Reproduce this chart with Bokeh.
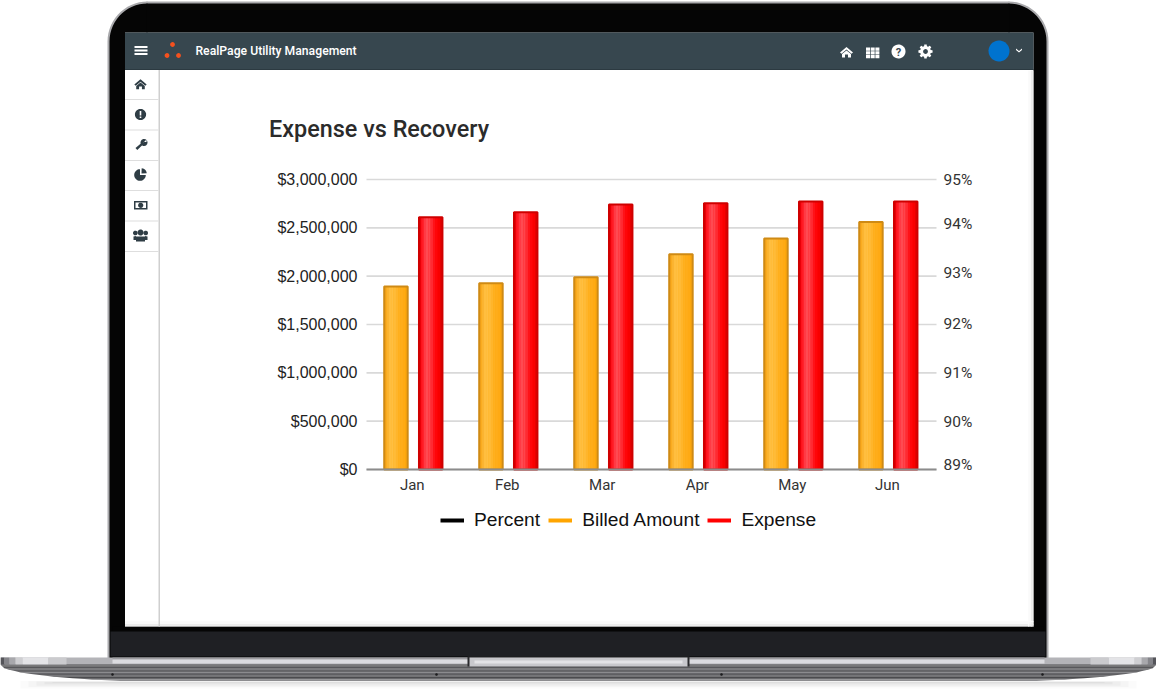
import numpy as np
from bokeh.embed import file_html
from bokeh.resources import INLINE
from bokeh.plotting import figure
from bokeh.models import (ColumnDataSource, PolyAnnotation, Label, LinearAxis, Range1d, FixedTicker,
                          NumeralTickFormatter, Legend, LegendItem)
from bokeh.transform import dodge

nan = float("nan")
# ---- data ----
months = ["Jan", "Feb", "Mar", "Apr", "May", "Jun"]
billed_amount = [1893000, 1928000, 1990000, 2228000, 2390000, 2560000]
expense = [2610000, 2662000, 2742000, 2755000, 2773000, 2773000]
percent = [nan, nan, nan, nan, nan, nan]   # the Percent series is in the legend but not visible in the plot
left_ticks = [0, 500000, 1000000, 1500000, 2000000, 2500000, 3000000]
right_labels = ["89%", "90%", "91%", "92%", "93%", "94%", "95%"]
chart_title = "Expense vs Recovery"
app_title = "RealPage Utility Management"

# the reference's right-hand labels sit slightly off their gridlines
right_tick_at = [89.10, 89.99, 91.0, 92.02, 93.06, 94.07, 94.98]
month_label_nudge = -0.018

W, H = 1156, 690
# plot rectangle inside the page, in pixels; the frame fills the canvas so the device can be drawn around it
PL, PR, PT, PB = 366, 936, 179, 469
x_per_px = len(months)/(PR-PL)
x0 = -0.5 - PL*x_per_px
y_per_px = 3000000/(PB-PT)
pct_per_px = 6/(PB-PT)

p = figure(width=W, height=H, x_range=Range1d(x0, x0+W*x_per_px),
           y_range=Range1d(-(H-PB)*y_per_px, PB*y_per_px), output_backend="svg",
           toolbar_location=None, min_border=0, background_fill_color=None, border_fill_color=None,
           x_axis_location=None, y_axis_location=None, tools="")
p.outline_line_color = None
p.center = []
p.extra_y_ranges = {"pct": Range1d(89-(H-PB)*pct_per_px, 89+PB*pct_per_px)}


# ---- device frame helpers (picture coordinates) ----
def poly(xs, ys, color, alpha=1.0):
    p.add_layout(PolyAnnotation(xs=[float(x) for x in xs], ys=[float(y) for y in ys], xs_units="canvas", ys_units="canvas",
                                fill_color=color, fill_alpha=alpha, line_color=None))

def rect(x0, y0, x1, y1, color, alpha=1.0):
    poly([x0, x1, x1, x0], [y0, y0, y1, y1], color, alpha)

def circ(cx, cy, r, color, a0=0, a1=360, wedge=False):
    t = np.radians(np.linspace(a0, a1, 40))
    xs = list(cx+r*np.cos(t)); ys = list(cy+r*np.sin(t))
    if wedge:
        xs.append(cx); ys.append(cy)
    poly(xs, ys, color)

def text(x, y, s, size, color, font="Roboto", style="normal", align="left"):
    p.add_layout(Label(x=x, y=y, x_units="canvas", y_units="canvas", text=s, text_font=font,
                       text_font_size=f"{size}px", text_color=color, text_font_style=style,
                       text_baseline="middle", text_align=align))

SX0, SX1, SY0, SY1 = 124.5, 1033, 32, 626

def lid(x0, x1, y0, y1, r, color):
    # ring around the screen, so that the chart underneath stays visible
    t = np.radians(np.linspace(180, 270, 16))
    ax = list(x0+r+r*np.cos(t)); ay = list(y0+r+r*np.sin(t))
    poly([x0]+ax+[x0+r, SX0, SX0], [y1]+ay+[SY0, SY0, y1], color)
    bx_ = [x0+x1-v for v in ax]
    poly([x1]+bx_+[x1-r, SX1, SX1], [y1]+ay+[SY0, SY0, y1], color)
    rect(x0+r-1, y0, x1-r+1, SY0, color)
    rect(x0+3, SY1, x1-3, y1, color)

# ---- laptop lid ----
lid(107, 1048, 1, 658, 40, "#a9a9ac")
lid(109, 1046, 3, 658, 38, "#050505")
rect(110, 631, 1045, 656, "#1f2024")
# soft screen edge shadow
for i, c in enumerate(["#dedede", "#ececec", "#f5f5f5", "#fbfbfb"]):
    rect(1032-i*1.5, 70, 1033-i*1.5, 626, c)
    rect(124.5, 625-i*1.5, 1033, 626-i*1.5, c)
# ---- base ----
bx = [0, 4, 20, 50, 90, 130]
by = [664, 668, 672, 676, 679, 681]
bands = ["#4a4a4d", "#505053", "#58585b", "#5e5e61", "#646467", "#68686b", "#66666a", "#5f5f62", "#56565a", "#4b4b4e", "#46464a", "#8d8d90"]
ylev = np.linspace(663.5, 680.5, len(bands)+1)
for c in range(5):
    rect(20+c*8, 680.5+c*0.3, 1136-c*8, 688-c*1.4, ["#fbfbfb", "#f5f5f5", "#eeeeee", "#e6e6e6", "#dddddd"][c])
for i, c in enumerate(bands):
    l0, l1 = np.interp([ylev[i], ylev[i+1]], by, bx)
    poly([l0, 1156-l0, 1156-l1, l1], [ylev[i], ylev[i], ylev[i+1], ylev[i+1]], c)
rect(0, 657, 1156, 664, "#b4b4b8")
for x_a, x_b, col in [(0, 4, "#55555a"), (4, 9, "#85858a"), (9, 15, "#a8a8ac"), (15, 22, "#cfcfd2"), (22, 48, "#e4e4e7"), (48, 66, "#cbcbce")]:
    rect(x_a, 657, x_b, 664, col)
    rect(1156-x_b, 657, 1156-x_a, 664, col)
rect(112, 657, 1044, 659, "#9c9ca0")
rect(112, 659, 1044, 663, "#dcdce0")
rect(467, 656, 689, 666, "#2a2a2d")
rect(469, 657, 687, 666, "#c8c8cc")
rect(474, 660, 682, 663, "#e3e3e6")
for x in [112, 436, 721, 1042]:
    circ(x, 674, 1.3, "#1c1c1e")

# ---- app bar ----
rect(124.5, 32, 1033, 69.5, "#37474f")
rect(124.5, 68.5, 1033, 69.5, "#2c3a41")
for y in [46.5, 50, 53.5]:
    rect(134, y-1, 147, y+1, "#ffffff")
for cx, cy in [(172, 44), (166.5, 55), (178, 55)]:
    circ(cx, cy, 2.4, "#f4511e")
text(195, 50, app_title, 12.2, "#ffffff", font="Roboto Medium")

def home(cx, cy, s, col):
    poly([cx-6.5*s, cx, cx+6.5*s, cx+5*s, cx, cx-5*s], [cy, cy-5.5*s, cy, cy+1.2*s, cy-3*s, cy+1.2*s], col)
    poly([cx, cx+4.5*s, cx+4.5*s, cx+1.5*s, cx+1.5*s, cx-1.5*s, cx-1.5*s, cx-4.5*s, cx-4.5*s],
         [cy-2*s, cy+1.5*s, cy+5*s, cy+5*s, cy+2*s, cy+2*s, cy+5*s, cy+5*s, cy+1.5*s], col)

home(846, 52, 1.0, "#ffffff")
for i in range(3):
    for j in range(3):
        rect(865.5+i*4.7, 47+j*3.8, 869.5+i*4.7, 50.2+j*3.8, "#ffffff")
circ(898, 51, 7, "#ffffff")
text(898, 51.5, "?", 11, "#37474f", style="bold", align="center")
# gear
t = np.radians(np.arange(0, 360, 5))
r = 5.4 + 1.7*(np.cos(np.radians(np.arange(0, 360, 5))*8) > 0)
poly(list(925+r*np.cos(t)), list(51+r*np.sin(t)), "#ffffff")
circ(925, 51, 2.4, "#37474f")
circ(998.5, 50.5, 10.5, "#0073cf")
poly([1015.5, 1018.5, 1021.5, 1021.5, 1018.5, 1015.5], [48, 50.5, 48, 49.5, 52, 49.5], "#ffffff")

# ---- side bar ----
rect(158, 69.5, 159.5, 626, "#cfcfcf")
for y in [99, 129.5, 160, 190, 220.5, 251]:
    rect(124.5, y-0.5, 158, y+0.5, "#dedede")
ic = "#2f3d45"
home(140, 84, 0.95, ic)
circ(140, 114, 5.6, ic)
rect(139.2, 110.5, 140.8, 115, "#ffffff")
rect(139.2, 116, 140.8, 117.6, "#ffffff")
poly([135, 141.5, 143, 136.8], [147.5, 142, 143.5, 149.5], ic)
circ(143.5, 142, 3.5, ic)
poly([143, 146, 146, 143], [142, 139, 141.5, 141.5], "#ffffff")
circ(139.5, 174.5, 5.8, ic, 0, 270, wedge=True)
circ(141, 173, 5.2, ic, 272, 358, wedge=True)
rect(133.5, 200.5, 147, 209, ic)
rect(135, 202, 145.5, 207.5, "#ffffff")
circ(140.2, 204.8, 2.6, ic)
circ(140, 232, 3, ic); circ(134.8, 232.5, 2.3, ic); circ(145.2, 232.5, 2.3, ic)
poly([135.5, 144.5, 144.5, 135.5], [236, 236, 241, 241], ic)
poly([133, 135.5, 135.5, 133], [236, 235.5, 239.5, 239.5], ic)
poly([144.5, 147, 147, 144.5], [235.5, 236, 239.5, 239.5], ic)

# ---- chart ----
text(268.5, 128, chart_title, 23.4, "#2b2b2b", font="Roboto Medium")
source = ColumnDataSource(dict(idx=list(range(len(months))), billed=billed_amount, expense=expense, pct=percent))

x_span = (-0.5, len(months)-0.5)
p.segment(x0=[x_span[0]]*len(left_ticks), x1=[x_span[1]]*len(left_ticks), y0=left_ticks, y1=left_ticks,
          line_color="#d9d9d9", line_width=1.6)

def gradient_bar(field, off, base, stops, edge, width=0.247):
    p.vbar(x=dodge("idx", off), top=field, width=width, source=source, fill_color=base, line_color=None)
    n = len(stops)
    for k, c in enumerate(stops):
        sx = off - width/2 + width*(k+0.5)/n
        p.vbar(x=dodge("idx", sx), top=field, width=width/n*1.08, source=source, fill_color=c, line_color=None)
    p.vbar(x=dodge("idx", off), top=field, width=width, source=source, fill_color=None, line_color=edge, line_width=2)

orange_stops = ["#f5a41c", "#fbb32f", "#ffbe3f", "#ffbf42", "#ffbb38", "#ffb52b", "#ffb020", "#ffad1a", "#ffaa14", "#fba70f"]
red_stops = ["#e90008", "#ff1a24", "#ff3a44", "#ff4a52", "#ff444c", "#ff2a32", "#ff1218", "#ff0509", "#f90000", "#e60000"]
gradient_bar("billed", -0.19, "#ffa500", orange_stops, "#cf8a14")
gradient_bar("expense", 0.176, "#ff0000", red_stops, "#cf0000")
# legend keys are drawn as short lines, as in the reference
r_percent = p.line(x="idx", y="pct", source=source, y_range_name="pct", line_color="#000000", line_width=4)
r_billed = p.line(x="idx", y="pct", source=source, y_range_name="pct", line_color="#ffa500", line_width=4)
r_expense = p.line(x="idx", y="pct", source=source, y_range_name="pct", line_color="#ff0000", line_width=4)

left = LinearAxis(fixed_location=x_span[0], ticker=FixedTicker(ticks=left_ticks),
                  formatter=NumeralTickFormatter(format="$0,0"),
                  axis_line_color=None, major_tick_line_color=None, minor_tick_line_color=None,
                  major_tick_out=0, major_label_standoff=9, major_label_text_font="Liberation Sans",
                  major_label_text_font_size="16px", major_label_text_color="#222222")
p.add_layout(left, "left")

month_ticks = [i+month_label_nudge for i in range(len(months))]
bottom = LinearAxis(fixed_location=0, bounds=x_span, ticker=FixedTicker(ticks=month_ticks),
                    major_label_overrides=dict(zip(month_ticks, months)),
                    axis_line_color="#8c8c8c", axis_line_width=2, major_tick_line_color=None, minor_tick_line_color=None,
                    major_tick_out=0, major_label_standoff=6, major_label_text_font="Roboto",
                    major_label_text_font_size="15px", major_label_text_color="#333333")
p.add_layout(bottom, "below")

right = LinearAxis(fixed_location=x_span[1], y_range_name="pct",
                   ticker=FixedTicker(ticks=right_tick_at),
                   major_label_overrides=dict(zip(right_tick_at, right_labels)),
                   axis_line_color=None, major_tick_line_color=None, minor_tick_line_color=None,
                   major_tick_out=0, major_label_standoff=7, major_label_text_font="Roboto",
                   major_label_text_font_size="15.5px", major_label_text_color="#333333")
p.add_layout(right, "right")

legend = Legend(items=[LegendItem(label="Percent", renderers=[r_percent]),
                       LegendItem(label="Billed Amount", renderers=[r_billed]),
                       LegendItem(label="Expense", renderers=[r_expense])],
                orientation="horizontal", location=(440, H-531), background_fill_alpha=0, border_line_color=None,
                label_text_font="Liberation Sans", label_text_font_size="19.2px", label_text_color="#111111",
                glyph_width=24, glyph_height=6, spacing=8, label_standoff=10, padding=0, margin=0)
p.add_layout(legend, "center")

open("out.html", "w").write(file_html(p, INLINE))
